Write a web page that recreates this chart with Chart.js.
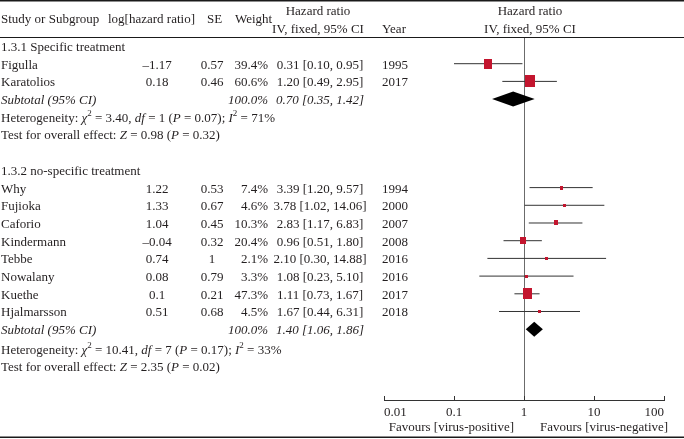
<!DOCTYPE html>
<html>
<head>
<meta charset="utf-8">
<script src="https://cdn.jsdelivr.net/npm/chart.js@4"></script>
<style>
  body { margin: 0; background: #fff; }
  canvas { display: block; }
</style>
</head>
<body>
<canvas id="forest" width="684" height="439"></canvas>
<script>
// ---- data ----
const studies = ['Figulla', 'Karatolios', 'Why', 'Fujioka', 'Caforio', 'Kindermann', 'Tebbe', 'Nowalany', 'Kuethe', 'Hjalmarsson'];
const groupOf = [0, 0, 1, 1, 1, 1, 1, 1, 1, 1];
const logHR = [-1.17, 0.18, 1.22, 1.33, 1.04, -0.04, 0.74, 0.08, 0.1, 0.51];
const se = [0.57, 0.46, 0.53, 0.67, 0.45, 0.32, 1, 0.79, 0.21, 0.68];
const weights = [39.4, 60.6, 7.4, 4.6, 10.3, 20.4, 2.1, 3.3, 47.3, 4.5];
const hr = [0.31, 1.20, 3.39, 3.78, 2.83, 0.96, 2.10, 1.08, 1.11, 1.67];
const ciLow = [0.10, 0.49, 1.20, 1.02, 1.17, 0.51, 0.30, 0.23, 0.73, 0.44];
const ciHigh = [0.95, 2.95, 9.57, 14.06, 6.83, 1.80, 14.88, 5.10, 1.67, 6.31];
const years = [1995, 2017, 1994, 2000, 2007, 2008, 2016, 2016, 2017, 2018];

const groupNames = ['1.3.1 Specific treatment', '1.3.2 no-specific treatment'];
const subHR = [0.70, 1.40];
const subLow = [0.35, 1.06];
const subHigh = [1.42, 1.86];
const chi2 = ['3.40', '10.41'];
const dfs = [1, 7];
const hetP = ['0.07', '0.17'];
const i2 = [71, 33];
const zVal = ['0.98', '2.35'];
const zP = ['0.32', '0.02'];

const tickValues = [0.01, 0.1, 1, 10, 100];
const favours = ['Favours [virus-positive]', 'Favours [virus-negative]'];

// ---- row layout ----
const FONT = '"Liberation Serif", "DejaVu Serif", serif';
const studyRow = [], headRow = [], subRow = [], hetRow = [], testRow = [];
let k = 0;
groupNames.forEach((g, gi) => {
  headRow.push(k++);
  groupOf.forEach((gg, i) => { if (gg === gi) studyRow[i] = k++; });
  subRow.push(k++);
  hetRow.push(k++ + 0.1 * gi);
  testRow.push(k++ + 0.1 * gi);
  k++;
});

const fmt = v => String(v).replace('-', '\u2013');

function box(w) {
  const c = document.createElement('canvas');
  c.width = Math.max(3, Math.round(1.25 * Math.sqrt(w)));
  c.height = Math.max(3, Math.round(1.55 * Math.sqrt(w)));
  const g = c.getContext('2d');
  g.fillStyle = '#c3152e';
  g.fillRect(0, 0, c.width, c.height);
  return c;
}

const datasets = studies.map((s, i) => ({
  type: 'line',
  data: [{x: ciLow[i], y: studyRow[i]}, {x: ciHigh[i], y: studyRow[i]}],
  borderColor: '#333',
  borderWidth: 1,
  pointRadius: 0,
  order: 2
}));
datasets.push({
  type: 'scatter',
  data: hr.map((v, i) => ({x: v, y: studyRow[i]})),
  pointStyle: weights.map(box),
  pointRadius: 4,
  order: 0
});

function rich(ctx, x, y, parts) {
  parts.forEach(p => {
    const it = p[1] === 'i', sup = p[1] === 's';
    ctx.font = (it ? 'italic ' : '') + (sup ? '9px ' : '13px ') + FONT;
    ctx.fillText(p[0], x, sup ? y - 6 : y);
    x += ctx.measureText(p[0]).width;
  });
}

function text(ctx, s, x, y, align, italic) {
  ctx.font = (italic ? 'italic ' : '') + '13px ' + FONT;
  ctx.textAlign = align || 'left';
  ctx.fillText(s, x, y);
  ctx.textAlign = 'left';
}

const forestPlugin = {
  id: 'forest',
  beforeDatasetsDraw(chart) {
    const ctx = chart.ctx, xs = chart.scales.x, a = chart.chartArea;
    const x1 = Math.round(xs.getPixelForValue(1)) + 0.5;
    ctx.save();
    ctx.strokeStyle = '#6b6b6b';
    ctx.lineWidth = 1;
    ctx.beginPath();
    ctx.moveTo(x1, a.top);
    ctx.lineTo(x1, a.bottom);
    ctx.stroke();
    ctx.restore();
  },
  afterDraw(chart) {
    const ctx = chart.ctx, xs = chart.scales.x, ys = chart.scales.y, a = chart.chartArea;
    const W = chart.width;
    ctx.save();
    // rules
    ctx.strokeStyle = '#1a1a1a';
    ctx.lineWidth = 1.5;
    ctx.beginPath(); ctx.moveTo(0, 0.75); ctx.lineTo(W, 0.75); ctx.stroke();
    ctx.beginPath(); ctx.moveTo(0, 437.25); ctx.lineTo(W, 437.25); ctx.stroke();
    ctx.lineWidth = 1;
    ctx.beginPath(); ctx.moveTo(0, a.top + 0.5); ctx.lineTo(W, a.top + 0.5); ctx.stroke();

    // upward tick marks
    ctx.strokeStyle = '#333';
    tickValues.forEach(v => {
      const px = Math.round(xs.getPixelForValue(v)) + 0.5;
      ctx.beginPath(); ctx.moveTo(px, a.bottom); ctx.lineTo(px, a.bottom - 4); ctx.stroke();
    });

    // subtotal diamonds
    ctx.fillStyle = '#000';
    subHR.forEach((v, gi) => {
      const y = ys.getPixelForValue(subRow[gi]);
      ctx.beginPath();
      ctx.moveTo(xs.getPixelForValue(subLow[gi]), y);
      ctx.lineTo(xs.getPixelForValue(v), y - 7.5);
      ctx.lineTo(xs.getPixelForValue(subHigh[gi]), y);
      ctx.lineTo(xs.getPixelForValue(v), y + 7.5);
      ctx.closePath();
      ctx.fill();
    });

    // table text
    ctx.fillStyle = '#231f20';
    ctx.textBaseline = 'alphabetic';
    const base = r => ys.getPixelForValue(r) + 5;

    text(ctx, 'Study or Subgroup', 1, 23);
    text(ctx, 'log[hazard ratio]', 108, 23);
    text(ctx, 'SE', 207, 23);
    text(ctx, 'Weight', 235, 23);
    text(ctx, 'Hazard ratio', 318, 15, 'center');
    text(ctx, 'IV, fixed, 95% CI', 318, 33, 'center');
    text(ctx, 'Year', 382, 33);
    text(ctx, 'Hazard ratio', 530, 15, 'center');
    text(ctx, 'IV, fixed, 95% CI', 530, 33, 'center');

    studies.forEach((s, i) => {
      const y = base(studyRow[i]);
      text(ctx, s, 1, y);
      text(ctx, fmt(logHR[i]), 157, y, 'center');
      text(ctx, String(se[i]), 212, y, 'center');
      text(ctx, weights[i].toFixed(1) + '%', 268, y, 'right');
      text(ctx, hr[i].toFixed(2) + ' [' + ciLow[i].toFixed(2) + ', ' + ciHigh[i].toFixed(2) + ']', 320, y, 'center');
      text(ctx, String(years[i]), 382, y);
    });

    groupNames.forEach((g, gi) => {
      text(ctx, g, 1, base(headRow[gi]));
      const ys2 = base(subRow[gi]);
      text(ctx, 'Subtotal (95% CI)', 1, ys2, 'left', true);
      text(ctx, '100.0%', 268, ys2, 'right', true);
      text(ctx, subHR[gi].toFixed(2) + ' [' + subLow[gi].toFixed(2) + ', ' + subHigh[gi].toFixed(2) + ']', 320, ys2, 'center', true);
      rich(ctx, 1, base(hetRow[gi]), [
        ['Heterogeneity: '], ['\u03c7', 'i'], ['2', 's'], [' = ' + chi2[gi] + ', '],
        ['df', 'i'], [' = ' + dfs[gi] + ' ('], ['P', 'i'], [' = ' + hetP[gi] + '); '],
        ['I', 'i'], ['2', 's'], [' = ' + i2[gi] + '%']
      ]);
      rich(ctx, 1, base(testRow[gi]), [
        ['Test for overall effect: '], ['Z', 'i'], [' = ' + zVal[gi] + ' ('], ['P', 'i'], [' = ' + zP[gi] + ')']
      ]);
    });

    // favours labels
    const xOne = xs.getPixelForValue(1);
    text(ctx, favours[0], xOne - 10, 431, 'right');
    text(ctx, favours[1], xOne + 16, 431, 'left');
    ctx.restore();
  }
};

new Chart(document.getElementById('forest'), {
  data: { datasets: datasets },
  options: {
    responsive: false,
    animation: false,
    events: [],
    layout: { padding: { left: 384, right: 20, top: 37, bottom: 0 } },
    plugins: { legend: { display: false }, tooltip: { enabled: false } },
    scales: {
      x: {
        type: 'logarithmic',
        min: 0.01,
        max: 100,
        afterBuildTicks: s => { s.ticks = tickValues.map(v => ({ value: v })); },
        afterFit: s => { s.height = 39; },
        grid: { display: false, drawTicks: false },
        border: { display: true, color: '#333', width: 1 },
        ticks: {
          padding: 5,
          align: 'inner',
          color: '#231f20',
          font: { family: FONT, size: 13 },
          maxRotation: 0,
          autoSkip: false,
          callback: v => String(v)
        }
      },
      y: {
        type: 'linear',
        display: false,
        reverse: true,
        min: -0.508,
        max: 20.0
      }
    }
  },
  plugins: [forestPlugin]
});
</script>
</body>
</html>
